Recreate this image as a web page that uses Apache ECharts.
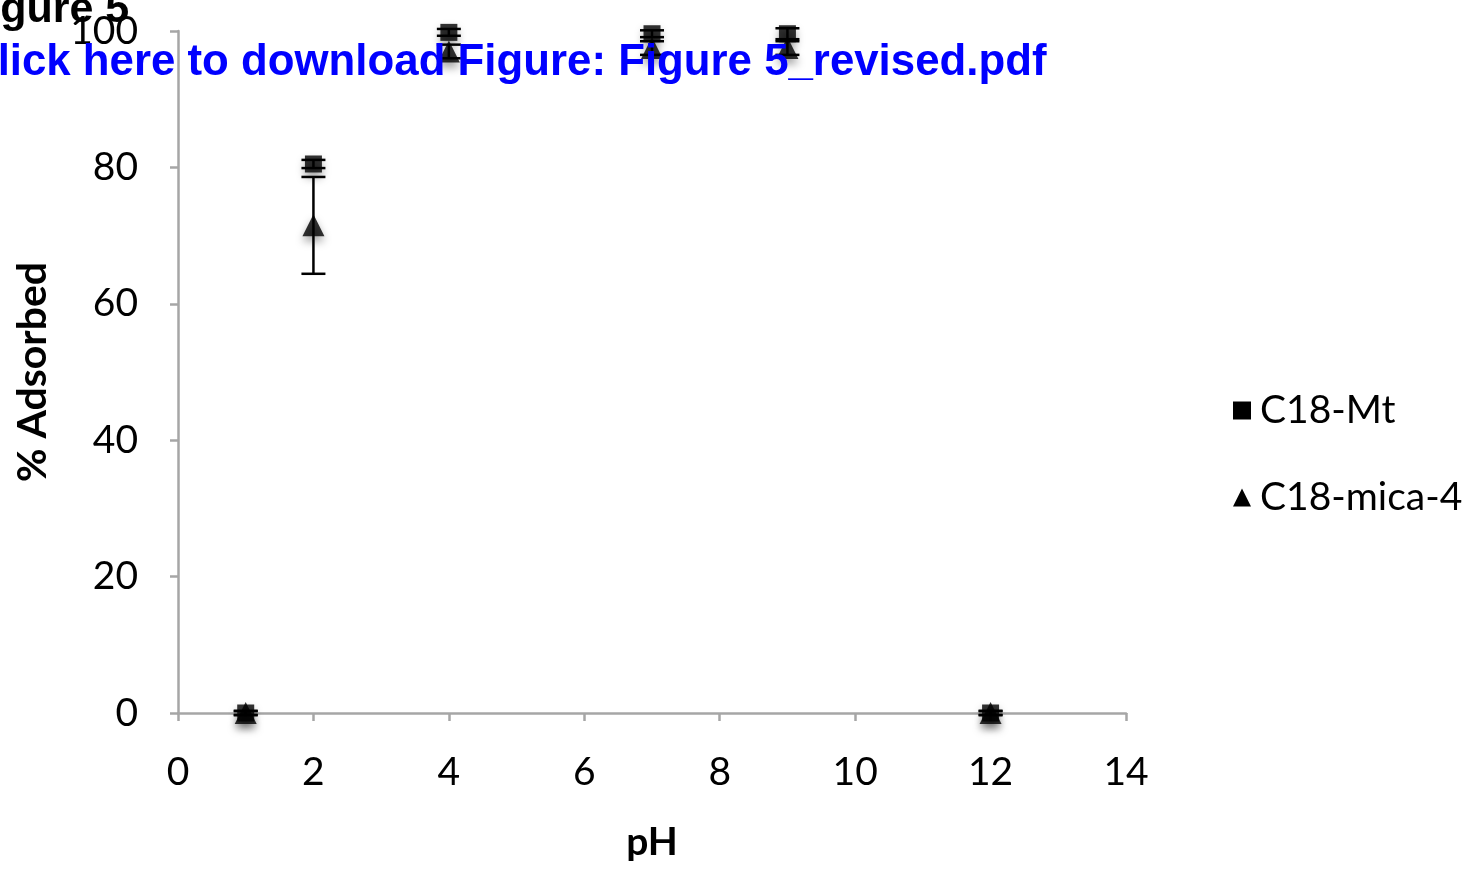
<!DOCTYPE html>
<html><head><meta charset="utf-8">
<script src="https://cdn.jsdelivr.net/npm/echarts@6/dist/echarts.min.js"></script>
<style>html,body{margin:0;padding:0;background:#fff}#c{width:1478px;height:877px}</style>
</head><body><div id="c"></div>
<script>
const ph = [1, 2, 4, 7, 9, 12];
const mtValues = [0, 80.5, 99.8, 99.6, 99.6, 0];
const mtErrors = [0.3, 0.6, 0.5, 0.5, 0.8, 0.3];
const micaValues = [0, 71.5, 97, 97.5, 97.5, 0];
const micaErrors = [0.3, 7.1, 1, 1, 1, 0.3];
const xTicks = [0, 2, 4, 6, 8, 10, 12, 14];
const yTicks = [0, 20, 40, 60, 80, 100];

const chart = echarts.init(document.getElementById('c'));
const tickFont = {fontFamily: 'Lato', fontSize: 39, color: '#000'};
const shadow = {shadowBlur: 8, shadowOffsetY: 5, shadowColor: 'rgba(0,0,0,0.45)'};

function errSeries(vals, errs) {
  return {
    type: 'custom',
    data: ph.map((x, i) => [x, vals[i] - errs[i], vals[i] + errs[i]]),
    z: 3,
    renderItem: function (params, api) {
      const lo = api.coord([api.value(0), api.value(1)]);
      const hi = api.coord([api.value(0), api.value(2)]);
      const w = 12;
      const st = {stroke: '#000', lineWidth: 2.5};
      return {type: 'group', children: [
        {type: 'line', shape: {x1: lo[0], y1: lo[1], x2: hi[0], y2: hi[1]}, style: st},
        {type: 'line', shape: {x1: lo[0] - w, y1: lo[1], x2: lo[0] + w, y2: lo[1]}, style: st},
        {type: 'line', shape: {x1: hi[0] - w, y1: hi[1], x2: hi[0] + w, y2: hi[1]}, style: st}
      ]};
    }
  };
}

const legendItem = {color: '#000', opacity: 1, borderWidth: 0, shadowBlur: 0, shadowOffsetY: 0};

chart.setOption({
  animation: false,
  grid: {left: 178, right: 352, top: 31, bottom: 164, containLabel: false, outerBoundsMode: 'none'},
  xAxis: {
    type: 'value', min: 0, max: 14, interval: 2,
    axisLine: {lineStyle: {color: '#a6a6a6', width: 2.5}},
    axisTick: {show: true, length: 8, inside: false, lineStyle: {color: '#a6a6a6', width: 2.5}},
    axisLabel: Object.assign({margin: 40}, tickFont),
    splitLine: {show: false},
    name: 'pH', nameLocation: 'middle', nameGap: 110,
    nameTextStyle: {fontFamily: 'Lato', fontWeight: 'bold', fontSize: 39, color: '#000'}
  },
  yAxis: {
    type: 'value', min: 0, max: 100, interval: 20,
    axisLine: {show: true, lineStyle: {color: '#a6a6a6', width: 2.5}},
    axisTick: {show: true, length: 8, lineStyle: {color: '#a6a6a6', width: 2.5}},
    axisLabel: Object.assign({margin: 40}, tickFont),
    splitLine: {show: false},
    name: '% Adsorbed', nameLocation: 'middle', nameGap: 125, nameRotate: 90,
    nameTextStyle: {fontFamily: 'Lato', fontWeight: 'bold', fontSize: 41, color: '#000'}
  },
  legend: {
    orient: 'vertical', left: 1228, top: 386, itemGap: 48,
    itemWidth: 18, itemHeight: 18,
    itemStyle: legendItem,
    textStyle: {fontFamily: 'Lato', fontSize: 39, color: '#000', padding: [0, 0, 0, 4]},
    data: [{name: 'C18-Mt', icon: 'rect', itemStyle: legendItem},
           {name: 'C18-mica-4', icon: 'triangle', itemStyle: legendItem}]
  },
  series: [
    errSeries(micaValues, micaErrors),
    errSeries(mtValues, mtErrors),
    {name: 'C18-mica-4', type: 'scatter', symbol: 'triangle', symbolSize: 22, z: 4,
     itemStyle: Object.assign({color: '#000'}, shadow),
     data: ph.map((x, i) => [x, micaValues[i]])},
    {name: 'C18-Mt', type: 'scatter', symbol: 'rect', symbolSize: 17, z: 5,
     itemStyle: Object.assign({color: '#000'}, shadow),
     data: ph.map((x, i) => [x, mtValues[i]])}
  ],
  graphic: [
    {type: 'text', z: 100, left: -38, top: -11,
     style: {text: 'Figure 5', fontFamily: 'Liberation Sans', fontWeight: 'bold', fontSize: 43, fill: '#000'}},
    {type: 'text', z: 100, left: -34, top: 41,
     style: {text: 'Click here to download Figure: Figure 5_revised.pdf', fontFamily: 'Liberation Sans', fontWeight: 'bold', fontSize: 43.8, fill: '#0000ff'}}
  ]
});
</script></body></html>
